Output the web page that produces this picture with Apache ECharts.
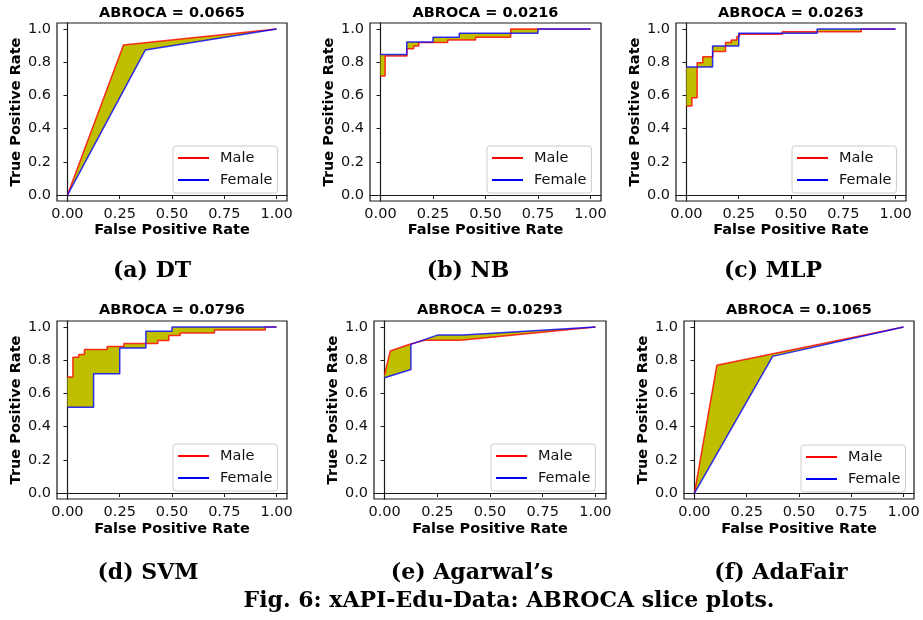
<!DOCTYPE html>
<html>
<head>
<meta charset="utf-8">
<script src="https://cdn.jsdelivr.net/npm/echarts@6/dist/echarts.min.js"></script>
<style>
html,body{margin:0;padding:0;background:#fff;}
#chart{width:923px;height:620px;}
</style>
</head>
<body>
<div id="chart"></div>
<script>
// ---------- data (FPR, TPR) ----------
const dtMale = [[0,0],[0.268,0.903],[1,1]];
const dtFemale = [[0,0],[0.372,0.873],[1,1]];

const nbMale = [[0,0.717],[0.022,0.717],[0.022,0.837],[0.126,0.837],[0.126,0.881],[0.158,0.881],[0.158,0.898],[0.182,0.898],[0.182,0.918],[0.32,0.918],[0.32,0.934],[0.453,0.934],[0.453,0.95],[0.62,0.95],[0.62,1],[1,1]];
const nbFemale = [[0,0.847],[0.125,0.847],[0.125,0.922],[0.25,0.922],[0.25,0.95],[0.375,0.95],[0.375,0.974],[0.75,0.974],[0.75,1],[1,1]];

const mlpMale = [[0,0.536],[0.026,0.536],[0.026,0.586],[0.051,0.586],[0.051,0.797],[0.078,0.797],[0.078,0.833],[0.126,0.833],[0.126,0.865],[0.187,0.865],[0.187,0.918],[0.214,0.918],[0.214,0.934],[0.241,0.934],[0.241,0.954],[0.254,0.954],[0.254,0.968],[0.458,0.968],[0.458,0.984],[0.836,0.984],[0.836,1],[1,1]];
const mlpFemale = [[0,0.771],[0.125,0.771],[0.125,0.898],[0.25,0.898],[0.25,0.974],[0.625,0.974],[0.625,1],[1,1]];

const svmMale = [[0,0.698],[0.026,0.698],[0.026,0.818],[0.054,0.818],[0.054,0.834],[0.081,0.834],[0.081,0.864],[0.19,0.864],[0.19,0.882],[0.27,0.882],[0.27,0.9],[0.432,0.9],[0.432,0.918],[0.485,0.918],[0.485,0.948],[0.539,0.948],[0.539,0.964],[0.703,0.964],[0.703,0.982],[0.946,0.982],[0.946,1],[1,1]];
const svmFemale = [[0,0.517],[0.125,0.517],[0.125,0.718],[0.25,0.718],[0.25,0.874],[0.375,0.874],[0.375,0.974],[0.5,0.974],[0.5,1],[1,1]];

const agMale = [[0,0.713],[0.027,0.855],[0.127,0.899],[0.19,0.92],[0.36,0.92],[1,1]];
const agFemale = [[0,0.694],[0.125,0.744],[0.125,0.895],[0.25,0.951],[0.375,0.951],[1,1]];

const adaMale = [[0,0],[0.107,0.769],[1,1]];
const adaFemale = [[0,0],[0.374,0.823],[1,1]];

const titles = ['ABROCA = 0.0665','ABROCA = 0.0216','ABROCA = 0.0263','ABROCA = 0.0796','ABROCA = 0.0293','ABROCA = 0.1065'];
const captions = ['(a) DT','(b) NB','(c) MLP','(d) SVM','(e) Agarwal\u2019s','(f) AdaFair'];
const figCaption = 'Fig. 6: xAPI-Edu-Data: ABROCA slice plots.';
const groupNames = ['Male','Female'];
const xTicks = [0,0.25,0.5,0.75,1];
const yTicks = [0,0.2,0.4,0.6,0.8,1];
const maleCurves = [dtMale, nbMale, mlpMale, svmMale, agMale, adaMale];
const femaleCurves = [dtFemale, nbFemale, mlpFemale, svmFemale, agFemale, adaFemale];

// ---------- layout ----------
const grids = [
  {left:57, top:23, w:230, h:178, legL:173, legT:146, capX:152, capY:271},
  {left:370, top:23, w:231, h:178, legL:487, legT:146, capX:468, capY:271},
  {left:676, top:23, w:230, h:178, legL:792, legT:146, capX:773, capY:271},
  {left:57, top:321, w:230, h:178, legL:173, legT:444, capX:148, capY:573},
  {left:374, top:321, w:232, h:178, legL:491, legT:444, capX:472, capY:573},
  {left:684, top:321, w:230, h:178, legL:801, legT:445, capX:781, capY:573}
];
const FONT = 'DejaVu Sans';
const FS = 14.5;

const option = {
  animation:false,
  backgroundColor:'#fff',
  grid:[], xAxis:[], yAxis:[], series:[], legend:[], graphic:[]
};

grids.forEach((g,i)=>{
  option.grid.push({left:g.left, top:g.top, width:g.w, height:g.h, show:true, borderColor:'#1a1a1a', borderWidth:1.2, backgroundColor:'transparent'});
  option.xAxis.push({
    type:'value', gridIndex:i, min:-0.05, max:1.05,
    name:'False Positive Rate', nameLocation:'middle', nameGap: i<3 ? 22 : 23,
    nameTextStyle:{fontFamily:FONT, fontWeight:'bold', fontSize:FS, color:'#000'},
    axisLine:{show:true, lineStyle:{color:'#1a1a1a', width:1.2}},
    axisTick:{show:true, length:4, customValues:xTicks, lineStyle:{color:'#1a1a1a'}},
    axisLabel:{customValues:xTicks, margin:6, fontFamily:FONT, fontSize:FS, color:'#111', formatter:v=>v.toFixed(2)},
    splitLine:{show:false}
  });
  option.yAxis.push({
    type:'value', gridIndex:i, min:-0.036, max:1.036,
    name:'True Positive Rate', nameLocation:'middle', nameGap:32,
    nameTextStyle:{fontFamily:FONT, fontWeight:'bold', fontSize:FS, color:'#000'},
    axisLine:{show:true, lineStyle:{color:'#1a1a1a', width:1.2}},
    axisTick:{show:true, length:4, customValues:yTicks, lineStyle:{color:'#1a1a1a'}},
    axisLabel:{customValues:yTicks, margin:6, fontFamily:FONT, fontSize:FS, color:'#111', formatter:v=>v.toFixed(1)},
    splitLine:{show:false}
  });
  const m = maleCurves[i], f = femaleCurves[i];
  const poly = m.concat(f.slice().reverse());
  option.series.push({
    type:'custom', xAxisIndex:i, yAxisIndex:i, data:[[0,0]], z:1, silent:true,
    renderItem:(params, api)=>({
      type:'polygon',
      shape:{points: poly.map(p=>api.coord(p))},
      style:{fill:'#bfbf00'}
    })
  });
  option.series.push({
    name:groupNames[0], type:'line', xAxisIndex:i, yAxisIndex:i, data:m, symbol:'none', z:3,
    lineStyle:{color:'#ff0000', width:1.5, opacity:0.8}, itemStyle:{color:'#ff0000'}
  });
  option.series.push({
    name:groupNames[1], type:'line', xAxisIndex:i, yAxisIndex:i, data:f, symbol:'none', z:4,
    lineStyle:{color:'#0000ff', width:1.5, opacity:0.8}, itemStyle:{color:'#0000ff'}
  });
  option.legend.push({
    data:groupNames, orient:'vertical', left:g.legL, top:g.legT,
    icon:'rect', itemWidth:31, itemHeight:2, itemGap:6,
    padding:[4,5,5,5],
    borderColor:'#cccccc', borderWidth:1, borderRadius:3, backgroundColor:'rgba(255,255,255,0.8)',
    textStyle:{fontFamily:FONT, fontSize:FS, color:'#111', lineHeight:16, padding:[0,0,0,6]},
    selectedMode:false
  });
  option.graphic.push({
    type:'text', x:g.left + g.w/2, y: i<3 ? 13 : 310,
    style:{text:titles[i], fontFamily:FONT, fontWeight:'bold', fontSize:FS, fill:'#000', align:'center', verticalAlign:'middle'}
  });
  option.graphic.push({
    type:'text', x:g.capX, y:g.capY,
    style:{text:captions[i], fontFamily:'DejaVu Serif', fontWeight:'bold', fontSize:22, fill:'#000', align:'center', verticalAlign:'middle'}
  });
});
option.graphic.push({
  type:'text', x:509, y:601,
  style:{text:figCaption, fontFamily:'DejaVu Serif', fontWeight:'bold', fontSize:22, fill:'#000', align:'center', verticalAlign:'middle'}
});

const chart = echarts.init(document.getElementById('chart'), null, {renderer:'canvas'});
chart.setOption(option);
</script>
</body>
</html>
